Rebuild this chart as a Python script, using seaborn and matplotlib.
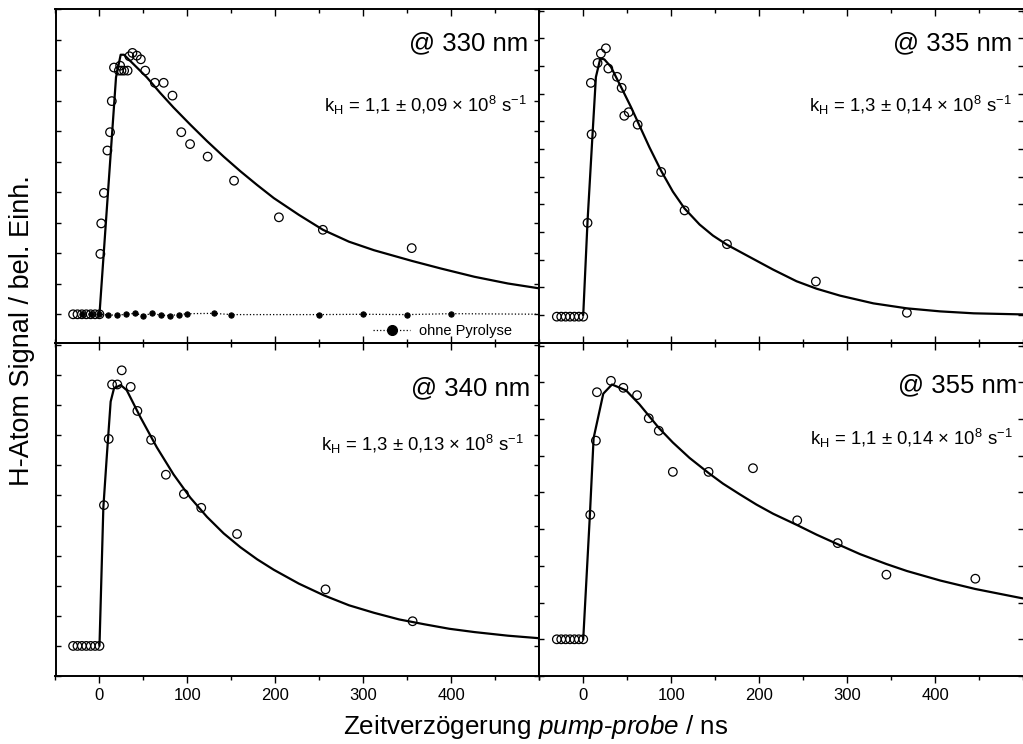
import matplotlib
matplotlib.use("Agg")
import matplotlib.pyplot as plt
from matplotlib.ticker import MultipleLocator, FixedLocator
import seaborn as sns

# ---------------- data ----------------
# 330 nm
x330 = [-30, -25, -20, -15, -10, -5, 0, 1, 2, 5, 9, 12, 14, 16.5, 22, 23.5, 25, 28, 32,
        34, 37.5, 42.5, 47, 52, 63, 73, 83, 93, 103, 123, 153, 204, 254, 355]
y330 = [0, 0, 0, 0, 0, 0, 0, 1.98, 2.98, 3.98, 5.37, 5.97, 6.99, 8.09, 7.99, 8.15, 7.99, 7.99, 7.99,
        8.46, 8.57, 8.48, 8.36, 7.99, 7.59, 7.59, 7.17, 5.97, 5.58, 5.17, 4.38, 3.18, 2.77, 2.17]
fit_x330 = [0, 18.8, 24.1, 27.9, 53.8, 69.0, 84.2, 103.2, 122.2, 141.2, 160.2, 179.2, 198.2,
            226.7, 254.1, 283.7, 312.2, 355.2, 388.3, 426.3, 464.3, 502.3]
fit_y330 = [0, 7.77, 8.51, 8.51, 7.77, 7.26, 6.78, 6.22, 5.68, 5.17, 4.69, 4.24, 3.81,
            3.26, 2.77, 2.38, 2.10, 1.75, 1.50, 1.23, 1.01, 0.84]
ohne_x = [-20, -10, 0, 10, 20, 30, 40, 50, 60, 70, 80, 90, 100, 130, 150, 250, 300, 350, 400, 510]
ohne_y = [0.02, 0.0, 0.0, -0.02, -0.03, 0.0, 0.03, -0.04, 0.03, -0.03, -0.04, -0.01, 0.02, 0.03,
          -0.01, -0.01, 0.0, -0.01, 0.02, 0.0]

# 335 nm
x335 = [-30, -25, -20, -15, -10, -5, 0, 4.9, 8.7, 9.5, 16.3, 20.1, 25.8, 28.5, 38.4, 43.7,
        46.7, 51.7, 61.9, 88.6, 115.2, 163.4, 264.5, 368]
y335 = [-0.06, -0.06, -0.06, -0.06, -0.06, -0.06, -0.06, 3.33, 8.39, 6.53, 9.11, 9.45, 9.64,
        8.91, 8.61, 8.21, 7.2, 7.33, 6.88, 5.17, 3.78, 2.56, 1.21, 0.08]
fit_x335 = [0, 4.9, 10.6, 14.4, 19.4, 24, 31.5, 44.9, 54.4, 63.9, 75.3, 88.6, 101.9, 115.2,
            132.3, 147.5, 163.4, 185.5, 215.9, 242.5, 265.3, 291.9, 329.9, 368, 406, 444, 500.6]
fit_y335 = [0, 3.39, 6.54, 8.6, 9.27, 9.24, 8.97, 8.12, 7.51, 6.85, 6.06, 5.21, 4.46, 3.85,
            3.27, 2.87, 2.54, 2.16, 1.64, 1.22, 0.95, 0.70, 0.42, 0.24, 0.13, 0.06, 0.02]

# 340 nm
x340 = [-30, -25, -20, -15, -10, -5, 0, 5.1, 10.5, 14.3, 20.3, 25.3, 35.5, 43.1, 58.7, 75.5,
        96, 115.7, 156.4, 257, 356]
y340 = [0, 0, 0, 0, 0, 0, 0, 4.68, 6.88, 8.69, 8.69, 9.16, 8.61, 7.81, 6.85, 5.69, 5.05,
        4.59, 3.72, 1.88, 0.82]
fit_x340 = [0, 4.4, 8.2, 12.7, 16.5, 24.1, 31.0, 46.2, 65.2, 84.2, 103.2, 122.2, 141.2, 160.2,
            179.2, 198.2, 226.7, 255.2, 283.7, 312.2, 340.7, 369.2, 397.7, 426.3, 464.3, 502.3]
fit_y340 = [0, 4.6, 6.25, 8.12, 8.56, 8.67, 8.50, 7.62, 6.60, 5.70, 4.93, 4.29, 3.74, 3.28,
            2.88, 2.53, 2.07, 1.68, 1.35, 1.10, 0.88, 0.72, 0.57, 0.46, 0.34, 0.25]

# 355 nm
x355 = [-30, -25, -20, -15, -10, -5, 0, 8, 14.4, 15.6, 31.5, 45.6, 61.2, 74.5, 85.9, 101.9,
        142.5, 193, 243.3, 289.3, 344.7, 445.8]
y355 = [0, 0, 0, 0, 0, 0, 0, 3.39, 5.41, 6.73, 7.04, 6.85, 6.65, 6.02, 5.68, 4.56, 4.56,
        4.66, 3.24, 2.62, 1.76, 1.65]
fit_x355 = [0, 7.6, 11.8, 22.8, 32.7, 48.7, 63.9, 85.9, 101.9, 120.9, 142.5, 158.9, 177.9,
            196.9, 215.9, 243.3, 265.3, 289.3, 314.7, 344.7, 368, 406, 445.8, 500.6]
fit_y355 = [0, 3.4, 5.48, 6.69, 6.94, 6.78, 6.40, 5.76, 5.36, 4.94, 4.53, 4.24, 3.95,
            3.67, 3.42, 3.11, 2.85, 2.59, 2.32, 2.05, 1.86, 1.60, 1.37, 1.11]

wavelength_labels = ["@ 330 nm", "@ 335 nm", "@ 340 nm", "@ 355 nm"]
rate_labels = ["1,1 ± 0,09", "1,3 ± 0,14", "1,3 ± 0,13", "1,1 ± 0,14"]
x_tick_values = [0, 100, 200, 300, 400]
x_tick_labels = ["0", "100", "200", "300", "400"]
legend_label = "ohne Pyrolyse"
x_title = r"Zeitverzögerung $\mathit{pump}$-$\mathit{probe}$ / ns"
y_title = "H-Atom Signal / bel. Einh."

# ---------------- style ----------------
sns.set_theme(style="ticks")
plt.rcParams['font.family'] = ['Liberation Sans', 'DejaVu Sans']
plt.rcParams['mathtext.fontset'] = 'custom'
plt.rcParams['mathtext.rm'] = 'Liberation Sans'
plt.rcParams['mathtext.it'] = 'Liberation Sans:italic'
plt.rcParams['mathtext.bf'] = 'Liberation Sans:bold'
plt.rcParams['axes.edgecolor'] = 'black'
plt.rcParams['axes.linewidth'] = 1.4
plt.rcParams['text.color'] = 'black'
plt.rcParams['xtick.color'] = 'black'
plt.rcParams['ytick.color'] = 'black'

fig = plt.figure(figsize=(10.23, 7.44), dpi=100)
axes = fig.subplots(2, 2)
fig.subplots_adjust(left=55.5 / 1023, right=1.0, top=1 - 9.3 / 744, bottom=1 - 676 / 744,
                    wspace=0, hspace=0)

panels = [
    (axes[0, 0], x330, y330, fit_x330, fit_y330, (-0.93, 10.0), (0.977, 0.898), (0.975, 0.711)),
    (axes[0, 1], x335, y335, fit_x335, fit_y335, (-1.0, 11.05), (0.977, 0.898), (0.977, 0.711)),
    (axes[1, 0], x340, y340, fit_x340, fit_y340, (-1.0, 10.08), (0.982, 0.862), (0.967, 0.694)),
    (axes[1, 1], x355, y355, fit_x355, fit_y355, (-1.0, 8.08), (0.988, 0.873), (0.979, 0.713)),
]

for i, (ax, xd, yd, fx, fy, ylim, pos_w, pos_k) in enumerate(panels):
    sns.lineplot(x=fx, y=fy, ax=ax, color='black', linewidth=1.6, sort=False,
                 estimator=None, zorder=2)
    sns.scatterplot(x=xd, y=yd, ax=ax, marker='o', s=38, color='black',
                    edgecolor='black', linewidth=0.9, zorder=3)
    ax.collections[-1].set_facecolor('none')

    if i == 0:
        sns.lineplot(x=ohne_x, y=ohne_y, ax=ax, color='black', linestyle=':',
                     linewidth=0.9, marker='o', markersize=3.8, markeredgecolor='black',
                     label=legend_label, sort=False, estimator=None, zorder=2)
        ax.legend(loc='center left', bbox_to_anchor=(0.657, 0.035), frameon=False,
                  fontsize=10.5, handlelength=2.5, handletextpad=0.6, borderpad=0,
                  borderaxespad=0, markerscale=1.9)

    ax.set_xlim(-50, 500)
    ax.set_ylim(*ylim)
    ax.set_xlabel("")
    ax.set_ylabel("")

    ax.xaxis.set_major_locator(FixedLocator(x_tick_values))
    ax.xaxis.set_minor_locator(MultipleLocator(50))
    ax.yaxis.set_major_locator(MultipleLocator(1))
    ax.tick_params(axis='y', which='major', direction='in', left=True, right=True,
                   labelleft=False, length=3.5, width=1.0)
    ax.tick_params(axis='x', which='major', length=5, width=1.0)
    ax.tick_params(axis='x', which='minor', length=3, width=1.0)

    if i < 2:
        ax.tick_params(axis='x', which='both', direction='in', top=True, bottom=True,
                       labelbottom=False)
    else:
        ax.tick_params(axis='x', which='both', direction='out', top=False, bottom=True,
                       labelbottom=True, labelsize=12)
        ax.set_xticks(x_tick_values, x_tick_labels)
        sec = ax.secondary_xaxis('top')
        sec.xaxis.set_major_locator(FixedLocator(x_tick_values))
        sec.xaxis.set_minor_locator(MultipleLocator(50))
        sec.tick_params(axis='x', which='both', direction='in', labeltop=False, width=1.0)
        sec.tick_params(axis='x', which='major', length=5)
        sec.tick_params(axis='x', which='minor', length=3)

    if i % 2 == 1:
        ax.spines['right'].set_visible(False)

    ax.text(pos_w[0], pos_w[1], wavelength_labels[i], transform=ax.transAxes,
            ha='right', va='center', fontsize=18.5)
    ax.text(pos_k[0], pos_k[1],
            r"k$_\mathregular{H}$ = " + rate_labels[i]
            + r" × 10$^\mathregular{8}$ s$^\mathregular{-1}$",
            transform=ax.transAxes, ha='right', va='center', fontsize=13.3)

fig.text(536 / 1023, 1 - 734 / 744, x_title, ha='center', va='baseline', fontsize=18.7)
fig.text(22 / 1023, 1 - 331 / 744, y_title, ha='center', va='center', rotation=90,
         fontsize=19.5)

fig.savefig("out.png", dpi=100)
